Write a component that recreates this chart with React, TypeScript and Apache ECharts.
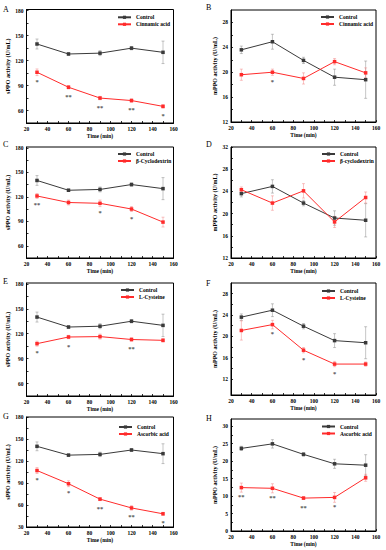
import React, { useEffect, useRef } from 'react';
import * as echarts from 'echarts';

// ---------- data ----------
const timePoints = [30, 60, 90, 120, 150];

const controlS = [140, 128, 129, 135, 130];
const controlSErr = [6, 1.5, 3, 2, 13.5];
const controlM = [23.6, 24.9, 21.9, 19.2, 18.8];
const controlMErr = [0.6, 1.2, 0.5, 1.3, 3.0];

const cinnamicS = [106, 88, 75, 72, 65];
const cinnamicSErr = [4, 2, 2, 2, 2];
const cinnamicM = [19.6, 20.0, 19.0, 21.7, 19.9];
const cinnamicMErr = [0.9, 0.5, 0.9, 0.5, 0.8];

const cyclodextrinS = [121, 113, 112, 105, 89];
const cyclodextrinSErr = [3, 3, 4, 3, 6];
const cyclodextrinM = [24.3, 21.9, 24.1, 18.5, 22.9];
const cyclodextrinMErr = [0.5, 1.3, 1.3, 1.0, 1.0];

const cysteineS = [108, 116, 116.5, 113, 112];
const cysteineSErr = [3, 2, 3, 2, 2];
const cysteineM = [21.1, 22.2, 17.4, 14.8, 14.8];
const cysteineMErr = [1.8, 0.8, 0.5, 0.5, 0.4];

const ascorbicS = [107, 89, 68, 56, 48];
const ascorbicSErr = [4, 4, 2, 3, 2];
const ascorbicM = [12.4, 12.2, 9.4, 9.6, 15.2];
const ascorbicMErr = [1.3, 1.3, 0.4, 1.4, 1.0];

const sigCinnamicS = ['*', '**', '**', '**', '*'];
const sigCinnamicM = ['', '*', '', '', ''];
const sigCyclodextrinS = ['**', '', '*', '*', ''];
const sigCyclodextrinM = ['', '', '', '', ''];
const sigCysteineS = ['*', '*', '', '**', ''];
const sigCysteineM = ['', '*', '*', '*', ''];
const sigAscorbicS = ['*', '*', '**', '**', '*'];
const sigAscorbicM = ['**', '**', '**', '*', ''];

const xTicks = [20, 40, 60, 80, 100, 120, 140, 160];
const sTicks = [60, 90, 120, 150, 180];
const gTicks = [30, 60, 90, 120, 150, 180];
const bTicks = [12, 16, 20, 24, 28];
const dTicks = [12, 16, 20, 24, 28, 32];
const fTicks = [12, 16, 20, 24, 28];
const hTicks = [0, 5, 10, 15, 20, 25, 30];

const sName = 'sPPO activity (U/mL)';
const mName = 'mPPO activity (U/mL)';
const xName = 'Time (min)';

// ---------- layout ----------
const FONT = '"Liberation Serif", "Times New Roman", serif';
const CTRL = '#3a3a3a';
const RED = '#ff2b2b';

const LX = 26.5, LW = 147, RX = 231, RW = 145;

const panels = [
  { letter: 'A', lp: [3, 5], grid: [LX, 9.5, LW, 113.5], yr: [45, 181.5], ticks: sTicks, yName: sName, gap: 15.5,
    treatName: 'Cinnamic acid', treat: cinnamicS, treatErr: cinnamicSErr, ctrl: controlS, ctrlErr: controlSErr, sig: sigCinnamicS, lg: [117, 13.8] },
  { letter: 'B', lp: [206, 3], grid: [RX, 10, RW, 112], yr: [12, 30], ticks: bTicks, yName: mName, gap: 13,
    treatName: 'Cinnamic acid', treat: cinnamicM, treatErr: cinnamicMErr, ctrl: controlM, ctrlErr: controlMErr, sig: sigCinnamicM, lg: [320, 13.5] },
  { letter: 'C', lp: [3, 140.5], grid: [LX, 147, LW, 111], yr: [45, 181], ticks: sTicks, yName: sName, gap: 15.5,
    treatName: 'β-Cyclodextrin', treat: cyclodextrinS, treatErr: cyclodextrinSErr, ctrl: controlS, ctrlErr: controlSErr, sig: sigCyclodextrinS, lg: [117, 150.5] },
  { letter: 'D', lp: [206, 140.5], grid: [RX, 147, RW, 111], yr: [12, 32], ticks: dTicks, yName: mName, gap: 13,
    treatName: 'β-cyclodextrin', treat: cyclodextrinM, treatErr: cyclodextrinMErr, ctrl: controlM, ctrlErr: controlMErr, sig: sigCyclodextrinM, lg: [321, 150.5] },
  { letter: 'E', lp: [3, 277.5], grid: [LX, 283, LW, 113], yr: [45, 181], ticks: sTicks, yName: sName, gap: 15.5,
    treatName: 'L-Cysteine', treat: cysteineS, treatErr: cysteineSErr, ctrl: controlS, ctrlErr: controlSErr, sig: sigCysteineS, lg: [120, 286.5] },
  { letter: 'F', lp: [206, 279.5], grid: [RX, 283, RW, 112], yr: [9, 30], ticks: fTicks, yName: mName, gap: 13,
    treatName: 'L-Cysteine', treat: cysteineM, treatErr: cysteineMErr, ctrl: controlM, ctrlErr: controlMErr, sig: sigCysteineM, lg: [321, 287.5] },
  { letter: 'G', lp: [3, 412.5], grid: [LX, 417, LW, 110], yr: [30, 180], ticks: gTicks, yName: sName, gap: 15.5,
    treatName: 'Ascorbic acid', treat: ascorbicS, treatErr: ascorbicSErr, ctrl: controlS, ctrlErr: controlSErr, sig: sigAscorbicS, lg: [118, 423.5] },
  { letter: 'H', lp: [206, 414.5], grid: [RX, 419, RW, 112], yr: [0, 32], ticks: hTicks, yName: mName, gap: 13,
    treatName: 'Ascorbic acid', treat: ascorbicM, treatErr: ascorbicMErr, ctrl: controlM, ctrlErr: controlMErr, sig: sigAscorbicM, lg: [321, 423] },
];

function withMinor(ticks: number[]) {
  const out: number[] = [];
  for (let i = 0; i < ticks.length; i++) {
    out.push(ticks[i]);
    if (i < ticks.length - 1) out.push((ticks[i] + ticks[i + 1]) / 2);
  }
  return out;
}

function errorSeries(i: number, vals: number[], errs: number[], color: string) {
  return {
    type: 'custom',
    xAxisIndex: i,
    yAxisIndex: i,
    silent: true,
    z: 2,
    data: timePoints.map((t, k) => [t, vals[k], errs[k]]),
    renderItem: (params: any, api: any) => {
      const x = api.value(0), y = api.value(1), e = api.value(2);
      const top = api.coord([x, y + e]);
      const bot = api.coord([x, y - e]);
      const style = { stroke: color, lineWidth: 0.6, opacity: 0.7 };
      return {
        type: 'group',
        children: [
          { type: 'line', shape: { x1: top[0], y1: top[1], x2: bot[0], y2: bot[1] }, style },
          { type: 'line', shape: { x1: top[0] - 1.5, y1: top[1], x2: top[0] + 1.5, y2: top[1] }, style },
          { type: 'line', shape: { x1: bot[0] - 1.5, y1: bot[1], x2: bot[0] + 1.5, y2: bot[1] }, style },
        ],
      };
    },
  };
}

function sigSeries(i: number, vals: number[], sig: string[]) {
  return {
    type: 'custom',
    xAxisIndex: i,
    yAxisIndex: i,
    silent: true,
    z: 4,
    data: timePoints.map((t, k) => [t, vals[k]]),
    renderItem: (params: any, api: any) => {
      const p = api.coord([api.value(0), api.value(1)]);
      const txt = sig[params.dataIndex];
      if (!txt) return null;
      return {
        type: 'text',
        x: p[0],
        y: p[1] + 9,
        style: { text: txt, fontSize: 6.5, fontWeight: 'bold', fontFamily: FONT, fill: '#555', align: 'center', verticalAlign: 'middle' },
      };
    },
  };
}

function buildOption() {
  const grid: any[] = [], xAxis: any[] = [], yAxis: any[] = [], series: any[] = [], legend: any[] = [], graphic: any[] = [];
  const lbl = { fontSize: 5.5, fontWeight: 'bold', fontFamily: FONT, color: '#000' };
  panels.forEach((p, i) => {
    grid.push({ left: p.grid[0], top: p.grid[1], width: p.grid[2], height: p.grid[3], show: true, borderColor: '#000', borderWidth: 1, containLabel: false });
    xAxis.push({
      gridIndex: i, type: 'value', min: 20, max: 160, interval: 20,
      axisLine: { show: true, onZero: false, lineStyle: { color: '#000', width: 1 } },
      axisTick: { show: true, inside: true, length: 2, customValues: withMinor(xTicks), lineStyle: { color: '#000', width: 0.8 } },
      axisLabel: { ...lbl, margin: 2.5, customValues: xTicks },
      splitLine: { show: false },
      name: xName, nameLocation: 'middle', nameGap: 9.5,
      nameTextStyle: { fontSize: 5.5, fontWeight: 'bold', fontFamily: FONT, color: '#000' },
    });
    yAxis.push({
      gridIndex: i, type: 'value', min: p.yr[0], max: p.yr[1],
      axisLine: { show: true, onZero: false, lineStyle: { color: '#000', width: 1 } },
      axisTick: { show: true, inside: true, length: 2, customValues: withMinor(p.ticks), lineStyle: { color: '#000', width: 0.8 } },
      axisLabel: { ...lbl, margin: 3, customValues: p.ticks },
      splitLine: { show: false },
      name: p.yName, nameLocation: 'middle', nameGap: p.gap, nameRotate: 90,
      nameTextStyle: { fontSize: 6, fontWeight: 'bold', fontFamily: FONT, color: '#000' },
    });
    series.push(errorSeries(i, p.ctrl, p.ctrlErr, '#777'));
    series.push(errorSeries(i, p.treat, p.treatErr, '#f07070'));
    series.push({
      type: 'line', name: 'Control', xAxisIndex: i, yAxisIndex: i, z: 3,
      data: timePoints.map((t, k) => [t, p.ctrl[k]]),
      symbol: 'rect', symbolSize: 3.5, showSymbol: true,
      lineStyle: { color: CTRL, width: 1 }, itemStyle: { color: CTRL },
    });
    series.push({
      type: 'line', name: p.treatName, xAxisIndex: i, yAxisIndex: i, z: 3,
      data: timePoints.map((t, k) => [t, p.treat[k]]),
      symbol: 'rect', symbolSize: 3.5, showSymbol: true,
      lineStyle: { color: RED, width: 1 }, itemStyle: { color: RED },
    });
    series.push(sigSeries(i, p.treat, p.sig));
    legend.push({
      left: p.lg[0], top: p.lg[1], orient: 'vertical', itemGap: 0, itemWidth: 13, itemHeight: 4, padding: 0,
      selectedMode: false,
      data: ['Control', p.treatName],
      textStyle: { fontSize: 5.5, fontWeight: 'bold', fontFamily: FONT, color: '#000', lineHeight: 7 },
    });
    graphic.push({
      type: 'text', left: p.lp[0], top: p.lp[1],
      style: { text: p.letter, fontSize: 8, fontFamily: FONT, fill: '#000' },
    });
  });
  return { animation: false, backgroundColor: '#fff', grid, xAxis, yAxis, series, legend, graphic };
}

export default function App() {
  const ref = useRef<HTMLDivElement>(null);
  useEffect(() => {
    if (!ref.current) return;
    const chart = echarts.init(ref.current, undefined, { renderer: 'svg' });
    chart.setOption(buildOption() as any);
    return () => chart.dispose();
  }, []);
  return <div ref={ref} style={{ position: 'absolute', left: 0, top: 0, width: 386, height: 550, background: '#fff' }} />;
}
